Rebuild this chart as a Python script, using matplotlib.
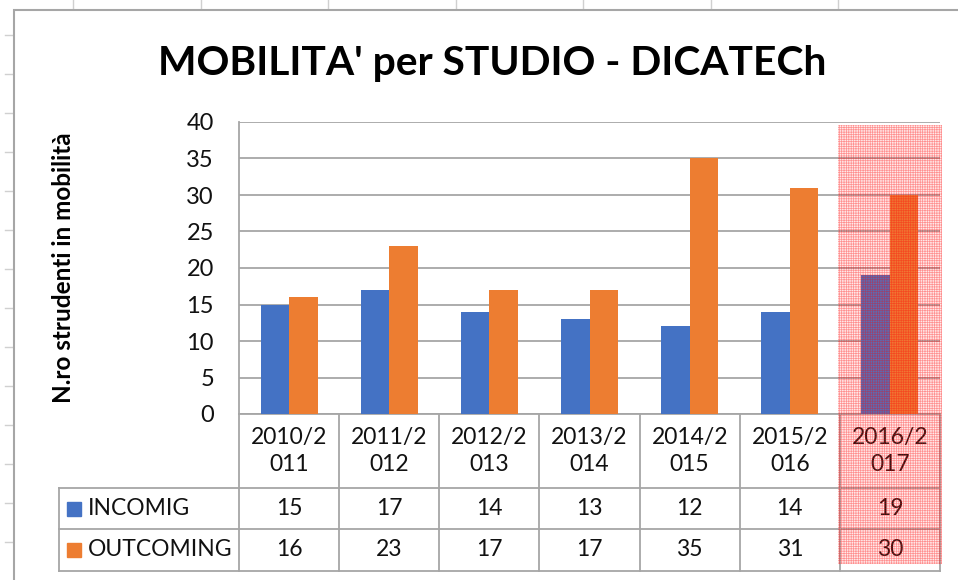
import matplotlib
matplotlib.use('Agg')
import matplotlib.pyplot as plt
from matplotlib.patches import Rectangle
from matplotlib.lines import Line2D

# ---------------- data ----------------
years = ["2010/2011", "2011/2012", "2012/2013", "2013/2014",
         "2014/2015", "2015/2016", "2016/2017"]
year_labels = ["2010/2\n011", "2011/2\n012", "2012/2\n013", "2013/2\n014",
               "2014/2\n015", "2015/2\n016", "2016/2\n017"]
incoming = [15, 17, 14, 13, 12, 14, 19]
outcoming = [16, 23, 17, 17, 35, 31, 30]
series_names = ["INCOMIG", "OUTCOMING"]
y_ticks = [0, 5, 10, 15, 20, 25, 30, 35, 40]
title = "MOBILITA' per STUDIO - DICATECh"
ylabel = "N.ro strudenti in mobilità"

# ---------------- style ----------------
BLUE = "#4472C4"
ORANGE = "#ED7D31"
GRID = "#A6A6A6"
TXT = "#111111"
FS = 16.5
FONT = ["Lato", "DejaVu Sans"]
plt.rcParams['font.family'] = FONT
plt.rcParams['hatch.linewidth'] = 0.5

W, H = 958, 580
fig = plt.figure(figsize=(W / 100, H / 100), dpi=100)
fig.patch.set_facecolor("white")

def fx(px):
    return px / W

def fy(py):
    return 1 - py / H

# spreadsheet background grid (outside chart area)
for xv in [73, 201, 328, 456, 583, 711, 838]:
    fig.add_artist(Line2D([fx(xv), fx(xv)], [fy(0), fy(12)], color="#D0D0D0",
                          lw=1, zorder=-3))
for yv in [35, 74, 113, 152, 191, 230, 269, 308, 347, 386, 425, 464, 503, 542]:
    fig.add_artist(Line2D([fx(5), fx(16)], [fy(yv), fy(yv)], color="#D0D0D0",
                          lw=1, zorder=-3))

# chart area
fig.add_artist(Rectangle((fx(14), fy(600)), fx(1000) - fx(14), fy(10) - fy(600),
                         facecolor="white", edgecolor="#A6A6A6", lw=1.5, zorder=-2))

# plot area
L, R, T, B = 239, 940, 122, 414
ax = fig.add_axes([fx(L), fy(B), fx(R) - fx(L), fy(T) - fy(B)])
ax.patch.set_alpha(0)
n = len(years)
x = list(range(n))
w = 0.285
ax.bar([i - w / 2 for i in x], incoming, width=w, color=BLUE, zorder=3)
ax.bar([i + w / 2 for i in x], outcoming, width=w, color=ORANGE, zorder=3)
ax.set_xlim(-0.5, n - 0.5)
ax.set_ylim(0, 40)
ax.set_yticks(y_ticks)
ax.set_yticklabels([str(t) for t in y_ticks], fontsize=FS + 0.5, color=TXT)
ax.tick_params(axis='y', length=0, pad=18)
ax.set_xticks([])
ax.yaxis.grid(True, color=GRID, lw=1.3, zorder=0)
ax.set_axisbelow(True)
for s in ["top", "right"]:
    ax.spines[s].set_visible(False)
for s in ["left", "bottom"]:
    ax.spines[s].set_color(GRID)
    ax.spines[s].set_linewidth(1.3)

# ---------------- data table ----------------
ph = B - T
r1 = -(488 - B) / ph
r2 = -(529 - B) / ph
r3 = -(571 - B) / ph
tx = ax.get_xaxis_transform()
x_left = -0.5 - (L - 59) / 100.0
kw = dict(transform=tx, clip_on=False, color=GRID, lw=1.3)
for i in range(n + 1):
    ax.add_line(Line2D([i - 0.5, i - 0.5], [0, r3], **kw))
ax.add_line(Line2D([x_left, x_left], [r1, r3], **kw))
for rv in [r1, r2, r3]:
    ax.add_line(Line2D([x_left, n - 0.5], [rv, rv], **kw))

for i, lab in enumerate(year_labels):
    ax.text(i, r1 / 2, lab, transform=tx, ha="center", va="center",
            fontsize=FS, linespacing=1.3, color=TXT)
    ax.text(i, (r1 + r2) / 2, str(incoming[i]), transform=tx, ha="center",
            va="center", fontsize=FS, color=TXT)
    ax.text(i, (r2 + r3) / 2, str(outcoming[i]), transform=tx, ha="center",
            va="center", fontsize=FS, color=TXT)

for (name, col, (ya, yb)) in zip(series_names, [BLUE, ORANGE], [(r1, r2), (r2, r3)]):
    yc = (ya + yb) / 2
    ax.plot([x_left + 0.155], [yc], marker="s", markersize=10, color=col,
            transform=tx, clip_on=False, linestyle="none")
    ax.text(x_left + 0.29, yc, name, transform=tx, ha="left", va="center",
            fontsize=FS, color=TXT)

# ---------------- texts ----------------
fig.text(fx(492), fy(75), title, ha="center", va="baseline",
         fontsize=29.3, fontweight="bold", color="black")
fig.text(fx(64), fy(268), ylabel, ha="center", va="center", rotation=90,
         fontsize=17.5, fontweight="bold", color="black")

# selection highlight on the last column
fig.add_artist(Rectangle((fx(838), fy(564)), fx(942) - fx(838), fy(125) - fy(564),
                         facecolor=(1, 0.3, 0.3, 0.12), edgecolor=(1, 0, 0, 0.38),
                         hatch="+" * 7, lw=0, zorder=10))

fig.savefig("out.png", dpi=100)
